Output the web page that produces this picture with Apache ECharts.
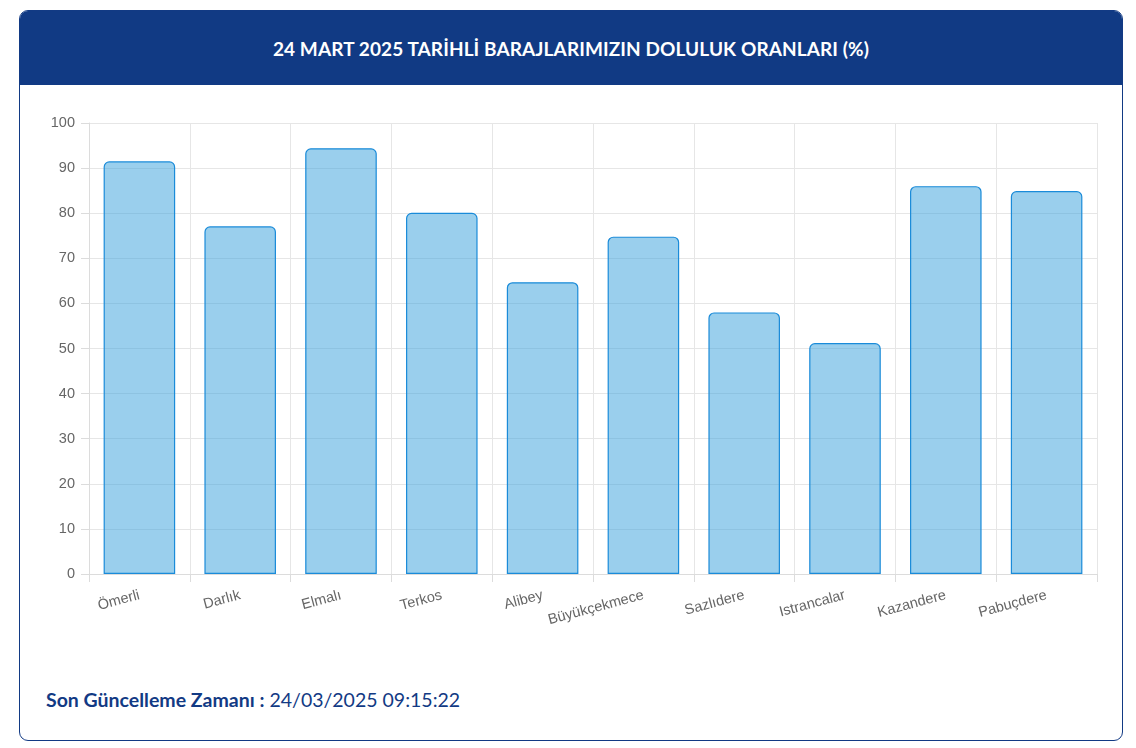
<!DOCTYPE html>
<html>
<head>
<meta charset="utf-8">
<script src="https://cdn.jsdelivr.net/npm/echarts@6/dist/echarts.min.js"></script>
<style>
  html, body { margin:0; padding:0; background:#fff; width:1136px; height:748px; overflow:hidden; }
  #card { position:absolute; left:19px; top:10px; width:1102px; height:729px; border:1px solid #123a84; border-radius:9px; overflow:hidden; background:#fff; }
  #head { position:absolute; left:0; top:0; width:100%; height:74px; background:#113a84; color:#fff; font-family:Lato, "Noto Sans", sans-serif; font-weight:bold; font-size:19px; text-align:center; line-height:75px; letter-spacing:0.1px; }
  #chart { position:absolute; left:0; top:74px; width:1104px; height:570px; }
  #foot { position:absolute; left:26px; top:677px; font-family:Lato, "Noto Sans", sans-serif; font-size:19.5px; color:#123a84; }
  #foot b { font-weight:bold; }
</style>
</head>
<body>
<div id="card">
  <div id="head">24 MART 2025 TARİHLİ BARAJLARIMIZIN DOLULUK ORANLARI (%)</div>
  <div id="chart"></div>
  <div id="foot"><b>Son Güncelleme Zamanı :</b> 24/03/2025 09:15:22</div>
</div>
<script>
const categories = ["Ömerli","Darlık","Elmalı","Terkos","Alibey","Büyükçekmece","Sazlıdere","Istrancalar","Kazandere","Pabuçdere"];
const fillRates = [91.5, 77.1, 94.4, 80.1, 64.7, 74.8, 58.0, 51.2, 86.0, 84.9];
const yTicks = {min:0, max:100, interval:10};

const chart = echarts.init(document.getElementById('chart'), null, {renderer:'canvas'});
chart.setOption({
  animation:false,
  grid:{left:69, right:27, top:38, bottom:81, containLabel:false},
  xAxis:{
    type:'category',
    data:categories,
    boundaryGap:true,
    axisLine:{show:true, lineStyle:{color:'#dcdcdc', width:1}},
    axisTick:{show:true, length:8, lineStyle:{color:'#dcdcdc'}, alignWithLabel:false},
    splitLine:{show:true, lineStyle:{color:'#e6e6e6', width:1}},
    axisLabel:{rotate:15, interval:0, color:'#666', fontSize:14.5, fontFamily:'"Liberation Sans", Arial, sans-serif', margin:21}
  },
  yAxis:{
    type:'value',
    min:yTicks.min, max:yTicks.max, interval:yTicks.interval,
    axisLine:{show:true, lineStyle:{color:'#dcdcdc', width:1}},
    axisTick:{show:true, length:8, lineStyle:{color:'#dcdcdc'}},
    splitLine:{show:true, lineStyle:{color:'#e6e6e6', width:1}},
    axisLabel:{color:'#666', fontSize:14.5, fontFamily:'"Liberation Sans", Arial, sans-serif', margin:14}
  },
  series:[{
    type:'bar',
    data:fillRates,
    barWidth:'71%',
    itemStyle:{color:'rgba(54,160,220,0.5)', borderColor:'#1a8bd9', borderWidth:1.2, borderRadius:[5,5,0,0]}
  }]
});
</script>
</body>
</html>
